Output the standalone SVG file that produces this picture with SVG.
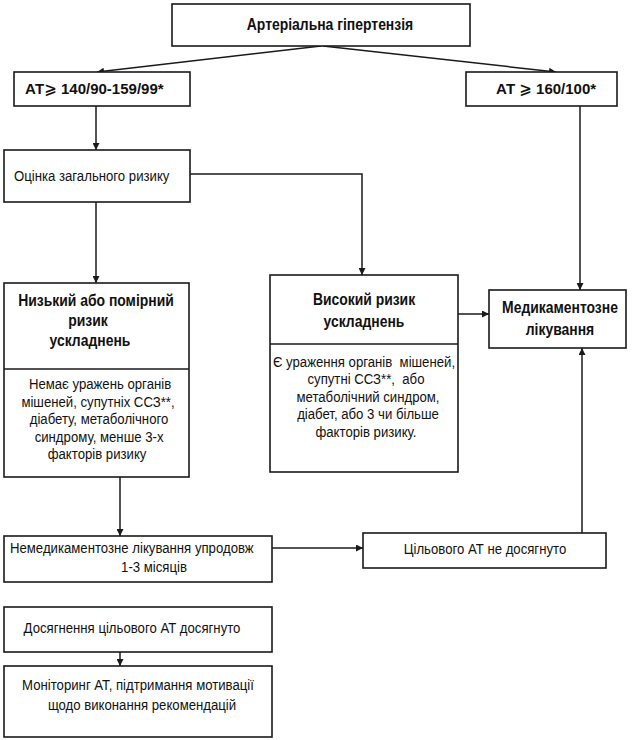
<svg xmlns="http://www.w3.org/2000/svg" width="640" height="740" viewBox="0 0 640 740">
<defs>
<marker id="ah" viewBox="0 0 10 10" refX="10" refY="5" markerWidth="7" markerHeight="7" markerUnits="userSpaceOnUse" orient="auto">
<path d="M0,0 L10,5 L0,10 z" fill="#1a1a1a"/>
</marker>
<style>
rect{fill:#fff;stroke:#1a1a1a;stroke-width:1.6}
.dv{stroke:#1a1a1a;stroke-width:1.6}
.c{fill:none;stroke:#1a1a1a;stroke-width:1.5;marker-end:url(#ah)}
text{font-family:"Liberation Sans","DejaVu Sans",sans-serif;font-size:15.5px;fill:#111;transform-box:fill-box;transform-origin:center;transform:scaleX(0.85)}
.b{font-weight:bold;font-size:16px;transform:scaleX(0.87)}
.m{text-anchor:middle}
.l{transform-origin:left center}
.n{font-size:15px;transform:none}
.p{white-space:pre}
</style>
</defs>
<rect width="640" height="740" style="fill:#fff;stroke:none"/>
<g id="connectors">
<path class="c" d="M321,46 L97,72"/>
<path class="c" d="M323,46 L556,72"/>
<path class="c" d="M96,106 L96,150"/>
<path class="c" d="M190,174 L362,174 L362,275"/>
<path class="c" d="M96,202 L96,283"/>
<path class="c" d="M458,314 L489,314"/>
<path class="c" d="M580,106 L580,290"/>
<path class="c" d="M582,533 L582,348"/>
<path class="c" d="M120,477 L120,536"/>
<path class="c" d="M272,548 L363,548"/>
<path class="c" d="M120,652 L120,666"/>
</g>
<g id="n-top"><rect x="172" y="4" width="298" height="42"/><text class="b m" x="330" y="30">Артеріальна гіпертензія</text></g>
<g id="n-at140"><rect x="14" y="72" width="176" height="34"/><text class="b n" x="25" y="94">АТ⩾ 140/90-159/99*</text></g>
<g id="n-at160"><rect x="466" y="72" width="151" height="34"/><text class="b m n" x="546" y="94">АТ ⩾ 160/100*</text></g>
<g id="n-risk"><rect x="4" y="150" width="186" height="52"/><text class="l" x="14" y="181">Оцінка загального ризику</text></g>
<g id="n-low"><rect x="4" y="283" width="185" height="194"/><line class="dv" x1="4" y1="369" x2="189" y2="369"/>
<text class="b m" x="96" y="306">Низький або помірний</text>
<text class="b m" x="88" y="326">ризик</text>
<text class="b m" x="90" y="346">ускладнень</text>
<text class="m" x="100" y="389">Немає уражень органів</text>
<text class="m" x="98" y="407">мішеней, супутніх ССЗ**,</text>
<text class="m" x="99" y="424">діабету, метаболічного</text>
<text class="m" x="99" y="442">синдрому, менше 3-х</text>
<text class="m" x="97" y="459">факторів ризику</text>
</g>
<g id="n-high"><rect x="270" y="275" width="188" height="197"/><line class="dv" x1="270" y1="344" x2="458" y2="344"/>
<text class="b m" x="364" y="305">Високий ризик</text>
<text class="b m" x="364" y="327">ускладнень</text>
<text class="m p" x="364" y="367">Є ураження органів  мішеней,</text>
<text class="m p" x="366" y="384">супутні ССЗ**,  або</text>
<text class="m" x="368" y="402">метаболічний синдром,</text>
<text class="m" x="368" y="419">діабет, або 3 чи більше</text>
<text class="m" x="366" y="437">факторів ризику.</text>
</g>
<g id="n-med"><rect x="489" y="290" width="137" height="58"/>
<text class="b m" x="560" y="313">Медикаментозне</text>
<text class="b m" x="560" y="335">лікування</text>
</g>
<g id="n-nonmed"><rect x="4" y="536" width="268" height="46"/>
<text class="l" x="10" y="553">Немедикаментозне лікування упродовж</text>
<text class="m" x="154" y="572">1-3 місяців</text>
</g>
<g id="n-notreached"><rect x="363" y="533" width="243" height="35"/>
<text class="m" x="485" y="554">Цільового АТ не досягнуто</text>
</g>
<g id="n-reached"><rect x="4" y="607" width="268" height="45"/>
<text class="m" x="132" y="633">Досягнення цільового АТ досягнуто</text>
</g>
<g id="n-monitor"><rect x="4" y="666" width="268" height="71"/>
<text class="m" x="138" y="690">Моніторинг АТ, підтримання мотивації</text>
<text class="m" x="142" y="710">щодо виконання рекомендацій</text>
</g>
</svg>
